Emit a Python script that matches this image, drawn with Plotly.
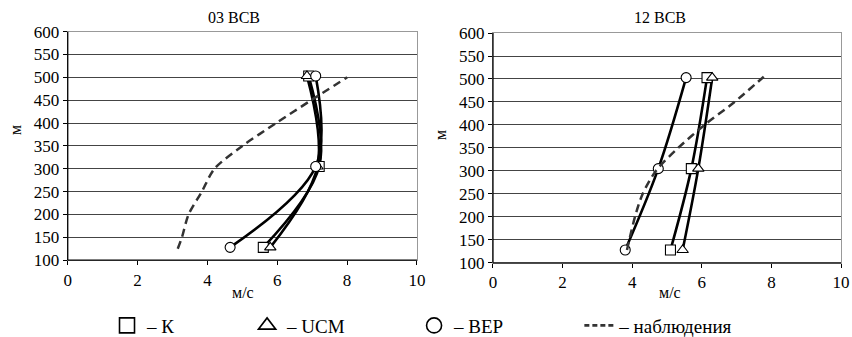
import plotly.graph_objects as go

# ---- data ----
heights_model = [128, 305, 503]
left_K = [5.6, 7.2, 6.9]
left_UCM = [5.8, 7.15, 6.85]
left_BEP = [4.65, 7.1, 7.1]
left_obs_h = [125, 150, 200, 250, 300, 350, 400, 450, 500]
left_obs_x = [3.15, 3.27, 3.46, 3.84, 4.2, 5.0, 5.97, 6.97, 8.0]

right_K = [5.1, 5.7, 6.15]
right_UCM = [5.45, 5.9, 6.3]
right_BEP = [3.8, 4.75, 5.55]
right_obs_h = [128, 200, 250, 300, 350, 400, 450, 505]
right_obs_x = [3.85, 4.08, 4.3, 4.68, 5.32, 6.08, 6.94, 7.78]

titles = ["03 ВСВ", "12 ВСВ"]
legend_names = ["– К", "– UCM", "– ВЕР", "– наблюдения"]
x_ticks = [0, 2, 4, 6, 8, 10]
y_ticks = list(range(100, 601, 50))

FONT = "Liberation Serif"
fig = go.Figure()

def add_panel(xa, ya, K, UCM, BEP, oh, ox):
    for xs in [K, UCM, BEP]:
        fig.add_trace(go.Scatter(
            x=xs, y=heights_model, mode="lines", xaxis=xa, yaxis=ya,
            line=dict(color="black", width=2.6, shape="spline", smoothing=1.0),
            showlegend=False, hoverinfo="skip"))
    for xs, sym in [(K, "square"), (UCM, "triangle-up"), (BEP, "circle")]:
        fig.add_trace(go.Scatter(
            x=xs, y=heights_model, mode="markers", xaxis=xa, yaxis=ya,
            marker=dict(symbol=sym, size=10, color="white",
                        line=dict(color="black", width=1.1)),
            showlegend=False))
    fig.add_trace(go.Scatter(
        x=ox, y=oh, mode="lines", xaxis=xa, yaxis=ya,
        line=dict(color="#333", width=2.5, dash="8px,5px", shape="spline", smoothing=0.8),
        showlegend=False))

add_panel("x", "y", left_K, left_UCM, left_BEP, left_obs_h, left_obs_x)
add_panel("x2", "y2", right_K, right_UCM, right_BEP, right_obs_h, right_obs_x)

# legend entries: four one-item legends placed individually
leg_syms = ["square", "triangle-up", "circle"]
for i, (sym, name) in enumerate(zip(leg_syms, legend_names[:3])):
    lg = "legend" if i == 0 else f"legend{i+1}"
    fig.add_trace(go.Scatter(
        x=[None], y=[None], mode="markers", name=name, legend=lg,
        marker=dict(symbol=sym, size=15, color="white", line=dict(color="black", width=1.6))))
fig.add_trace(go.Scatter(
    x=[None], y=[None], mode="lines", name=legend_names[3], legend="legend4",
    line=dict(color="#333", width=2.6, dash="5px,3px")))

leg_common = dict(orientation="h", yanchor="middle", y=0.034, xanchor="left",
                  font=dict(family=FONT, size=19, color="black"),
                  bgcolor="rgba(0,0,0,0)", itemwidth=30, tracegroupgap=0)
fig.update_layout(
    legend=dict(x=0.1256, **leg_common),
    legend2=dict(x=0.290, **leg_common),
    legend3=dict(x=0.486, **leg_common),
    legend4=dict(x=0.680, **leg_common),
)

axis_common = dict(showline=True, linecolor="#999", linewidth=1, mirror=True,
                   ticks="outside", ticklen=4, tickcolor="black",
                   tickfont=dict(family=FONT, size=17, color="black"), zeroline=False)
fig.update_layout(
    xaxis=dict(domain=[0.0795, 0.4894], range=[0, 10], tickvals=x_ticks, showgrid=False,
               anchor="y", **axis_common),
    yaxis=dict(domain=[0.228, 0.906], range=[100, 600], tickvals=y_ticks, showgrid=True,
               gridcolor="#444", gridwidth=1, anchor="x", **axis_common),
    xaxis2=dict(domain=[0.5786, 0.9871], range=[0, 10], tickvals=x_ticks, showgrid=False,
                anchor="y2", **axis_common),
    yaxis2=dict(domain=[0.22, 0.902], range=[100, 600], tickvals=y_ticks, showgrid=True,
                gridcolor="#444", gridwidth=1, anchor="x2", **axis_common),
)

# dark left and bottom axis lines
shapes = []
for xa, ya in [("x", "y"), ("x2", "y2")]:
    shapes.append(dict(type="line", xref=f"{xa} domain", yref=f"{ya} domain",
                       x0=0, x1=0, y0=0, y1=1, line=dict(color="black", width=1.3)))
    shapes.append(dict(type="line", xref=f"{xa} domain", yref=f"{ya} domain",
                       x0=0, x1=1, y0=0, y1=0, line=dict(color="black", width=1.3)))

def ann(text, xpx, ypx, size, angle=0):
    return dict(text=text, x=xpx / 852, y=1 - ypx / 337, xref="paper", yref="paper",
                xanchor="center", yanchor="middle", showarrow=False, textangle=angle,
                font=dict(family=FONT, size=size, color="black"))

anns = []
for xc, t in zip([234, 660], titles):
    anns.append(ann(t, xc, 18, 16))
for xc in [243, 670]:
    anns.append(ann("м/с", xc, 292, 16))
for xc, yc in [(15, 130), (441, 135)]:
    anns.append(ann("м", xc, yc, 16, -90))

fig.update_layout(
    width=852, height=337, margin=dict(l=0, r=0, t=0, b=0, autoexpand=False),
    paper_bgcolor="white", plot_bgcolor="white", font=dict(family=FONT),
    annotations=anns, shapes=shapes, showlegend=True,
)

fig.write_html("out.html")
